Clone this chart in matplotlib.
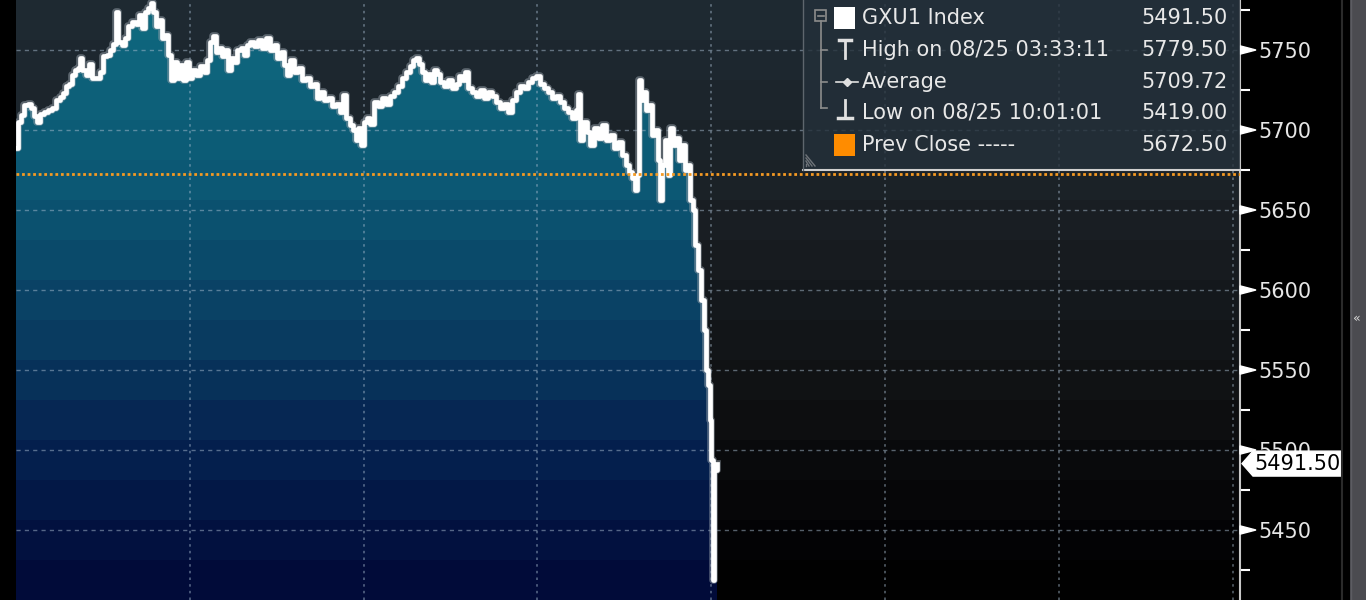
import matplotlib
matplotlib.use('Agg')
import numpy as np
import matplotlib.pyplot as plt
from matplotlib.patches import Polygon, Rectangle
from matplotlib.colors import LinearSegmentedColormap

# GXU1 Index intraday, minutes after 02:00 on 08/25
times = [0, 1.4, 3.5, 5.5, 8.3, 10.4, 12.4, 14.5, 16.6, 19.3,
         22.1, 24.8, 27.6, 30.4, 32.4, 34.5, 36.6, 38.6, 40.7, 42.8,
         44.2, 45.5, 48.3, 50.4, 52.4, 55.2, 58.0, 60.0, 62.8, 64.9,
         66.9, 69.0, 70.4, 73.2, 75.2, 77.3, 80.1, 82.8, 84.9, 87.0,
         89.0, 91.1, 93.2, 94.5, 96.6, 98.7, 100.8, 102.8, 104.9, 107.0,
         109.0, 111.1, 113.2, 115.2, 117.3, 119.4, 121.5, 124.2, 127.0, 129.7,
         131.8, 133.9, 135.9, 138.0, 140.1, 142.2, 144.2, 146.3, 148.4, 150.4,
         152.5, 155.3, 157.3, 159.4, 161.5, 164.2, 167.0, 169.8, 172.5, 175.3,
         178.0, 180.1, 182.9, 184.9, 187.0, 189.1, 191.8, 194.6, 197.4, 200.1,
         202.9, 205.7, 207.7, 209.8, 212.6, 215.3, 218.1, 220.8, 223.6, 225.7,
         227.7, 230.5, 232.6, 234.6, 236.0, 238.1, 240.2, 242.2, 244.3, 247.1,
         249.8, 252.6, 255.3, 258.1, 260.9, 263.6, 266.4, 269.1, 271.9, 274.0,
         276.1, 278.1, 280.2, 282.3, 284.3, 286.4, 288.5, 290.5, 292.6, 295.4,
         298.1, 300.9, 303.6, 305.7, 307.8, 309.9, 311.9, 314.7, 317.4, 320.2,
         323.0, 325.7, 328.5, 331.2, 334.0, 336.8, 339.5, 342.3, 345.1, 347.8,
         350.6, 353.3, 356.1, 358.9, 361.6, 364.4, 367.1, 369.9, 372.7, 375.4,
         378.2, 380.9, 383.7, 386.5, 387.8, 389.2, 391.3, 394.0, 396.1, 398.9,
         401.6, 404.4, 407.2, 409.9, 412.7, 415.4, 418.2, 421.0, 423.0, 425.1,
         427.2, 428.6, 430.0, 431.3, 432.7, 434.8, 436.8, 438.9, 441.0, 443.1,
         444.4, 445.8, 447.9, 449.9, 451.3, 453.4, 455.5, 457.5, 459.6, 461.7,
         463.7, 465.1, 467.2, 468.6, 470.7, 472.7, 474.8, 476.2, 477.6, 479.0,
         479.7, 481.0, 481.7, 483.7]

prices = [5688.75, 5705.0, 5709.5, 5715.5, 5716.25, 5713.75, 5708.75, 5705.0, 5710.0, 5711.25,
          5712.5, 5713.75, 5718.75, 5720.5, 5723.0, 5727.5, 5728.75, 5734.5, 5737.5, 5738.75,
          5745.0, 5737.5, 5734.5, 5741.25, 5732.5, 5732.5, 5736.25, 5746.25, 5747.0, 5750.0,
          5753.75, 5773.75, 5755.0, 5753.0, 5757.5, 5765.0, 5767.5, 5766.25, 5772.0, 5763.75,
          5773.75, 5776.25, 5779.5, 5773.75, 5765.0, 5768.75, 5757.5, 5759.5, 5747.0, 5731.25,
          5742.5, 5732.5, 5740.5, 5731.25, 5742.5, 5732.5, 5737.5, 5734.5, 5740.0, 5736.25,
          5743.75, 5755.0, 5758.75, 5748.75, 5751.25, 5746.25, 5750.0, 5737.5, 5745.0, 5742.5,
          5750.0, 5751.25, 5747.0, 5753.0, 5755.0, 5752.5, 5756.25, 5751.25, 5757.5, 5750.0,
          5753.0, 5745.0, 5748.75, 5740.5, 5734.5, 5743.75, 5736.25, 5738.75, 5731.25, 5732.5,
          5727.5, 5728.75, 5720.0, 5723.75, 5718.75, 5720.0, 5715.0, 5716.25, 5711.25, 5722.0,
          5707.5, 5703.0, 5700.0, 5693.75, 5701.25, 5690.5, 5705.0, 5707.5, 5703.75, 5717.5,
          5715.0, 5720.0, 5716.25, 5721.25, 5723.75, 5727.5, 5732.5, 5736.25, 5740.0, 5743.75,
          5745.0, 5741.25, 5736.25, 5731.25, 5735.0, 5730.0, 5737.5, 5735.0, 5730.0, 5727.5,
          5731.25, 5726.25, 5728.75, 5733.75, 5731.25, 5736.25, 5726.25, 5723.75, 5721.25, 5725.0,
          5720.0, 5723.75, 5721.25, 5717.5, 5713.75, 5716.25, 5711.25, 5718.75, 5723.75, 5727.5,
          5726.25, 5730.0, 5732.5, 5733.75, 5728.75, 5726.25, 5723.75, 5720.0, 5721.25, 5717.5,
          5713.75, 5711.25, 5707.5, 5712.5, 5722.5, 5693.75, 5705.0, 5698.75, 5690.5, 5701.25,
          5695.0, 5703.0, 5693.75, 5697.0, 5688.75, 5692.5, 5684.5, 5678.0, 5673.75, 5670.0,
          5662.5, 5672.0, 5731.25, 5718.75, 5723.75, 5712.5, 5715.5, 5697.0, 5700.0, 5681.25,
          5656.25, 5678.0, 5693.75, 5672.0, 5701.25, 5690.5, 5695.0, 5681.25, 5690.5, 5675.0,
          5678.0, 5656.25, 5650.0, 5628.0, 5612.5, 5593.75, 5575.0, 5550.0, 5540.5, 5518.75,
          5493.75, 5419.0, 5487.5, 5491.5]

prevClose = 5672.50
highVal = 5779.50
avgVal = 5709.72
lowVal = 5419.00
lastVal = 5491.50

legendNames = ['GXU1 Index', 'High on 08/25 03:33:11', 'Average',
               'Low on 08/25 10:01:01', 'Prev Close -----']
legendVals = [lastVal, highVal, avgVal, lowVal, prevClose]

yTicks = [5450, 5500, 5550, 5600, 5650, 5700, 5750]
yMinor = [5425, 5475, 5525, 5575, 5625, 5675, 5725, 5775]
xGrid = [120, 240, 360, 480, 600, 720, 840]   # 04:00 .. 16:00

W, H = 1366, 600
ylo, yhi = 5406.25, 5781.25
xlo, xhi = 0, 845

fig = plt.figure(figsize=(W / 100, H / 100), dpi=100, facecolor='black')
ax = fig.add_axes([16 / W, 0, 1224 / W, 1])
ax.set_xlim(xlo, xhi)
ax.set_ylim(ylo, yhi)
ax.set_facecolor('black')

# banded background and area fill
nb = 15
bgCmap = LinearSegmentedColormap.from_list('bg', [(0, '#1f2a33'), (0.3, '#1b2227'),
                                                  (0.6, '#121417'), (0.85, '#060608'),
                                                  (1, '#000000')])
fillCmap = LinearSegmentedColormap.from_list('fl', [(0, '#0f6b80'), (0.3, '#0c5874'),
                                                    (0.55, '#0a3e62'), (0.75, '#05214f'),
                                                    (1, '#010836')])
bandPos = (np.arange(nb) + 0.5) / nb
bgArr = bgCmap(bandPos)[:, None, :3]
flArr = fillCmap(bandPos)[:, None, :3]
ax.imshow(bgArr, extent=(xlo, xhi, ylo, yhi), aspect='auto', interpolation='nearest',
          origin='upper', zorder=0)
fillImg = ax.imshow(flArr, extent=(xlo, xhi, ylo, yhi), aspect='auto',
                    interpolation='nearest', origin='upper', zorder=1)
area = ax.fill_between(times, prices, ylo, step='post', facecolor='none', edgecolor='none')
fillImg.set_clip_path(area.get_paths()[0], ax.transData)

# grid
for v in yTicks:
    ax.axhline(v, color='#a8bccf', alpha=0.5, lw=1, ls=(0, (3, 3)), zorder=2)
for xg in xGrid:
    ax.axvline(xg, color='#a8bccf', alpha=0.5, lw=1.2, ls=(0, (1.5, 2.5)), zorder=2)

# price line
ax.plot(times, prices, drawstyle='steps-post', color='#9aa4ad', lw=5.5, alpha=0.5, zorder=3)
ax.plot(times, prices, drawstyle='steps-post', color='white', lw=3.4, zorder=4)

ax.axhline(prevClose, color='#f59a23', lw=2, ls=(0, (1, 1)), zorder=5)

# axes / ticks
for s in ['top', 'left', 'bottom']:
    ax.spines[s].set_visible(False)
ax.spines['right'].set_color('#c8c8c8')
ax.spines['right'].set_linewidth(1.5)
ax.set_xticks([])
ax.yaxis.tick_right()
ax.set_yticks(yTicks)
ax.set_yticklabels([str(v) for v in yTicks])
ax.set_yticks(yMinor, minor=True)
ax.tick_params(axis='y', which='major', length=0, pad=13, labelsize=15, labelcolor='#e6e6e6')
ax.tick_params(axis='y', which='minor', length=7, width=1.5, color='white', direction='out')

yt = ax.get_yaxis_transform()
for v in yTicks:
    ax.add_patch(Polygon([(1.0, v + 2.6), (1.0, v - 2.6), (1 + 16 / 1224, v)], closed=True,
                         transform=yt, clip_on=False, color='white', zorder=6))

def axX(px):
    return (px - 16) / 1224

tag = Polygon([(axX(1242), lastVal), (axX(1253), lastVal + 7.8), (axX(1341), lastVal + 7.8),
               (axX(1341), lastVal - 7.8), (axX(1253), lastVal - 7.8)], closed=True,
              transform=yt, clip_on=False, color='white', zorder=10)
ax.add_patch(tag)
ax.text(axX(1297), lastVal, f'{lastVal:.2f}', transform=yt, ha='center', va='center',
        fontsize=15, color='black', zorder=11, clip_on=False)

# overlay in pixel coordinates for legend and frame
ov = fig.add_axes([0, 0, 1, 1], zorder=5)
ov.set_xlim(0, W)
ov.set_ylim(H, 0)
ov.axis('off')
ov.patch.set_alpha(0)

ov.add_patch(Rectangle((803, 0), 437, 170, facecolor='#24303a', alpha=0.8, edgecolor='none'))
ov.plot([803, 1240], [170, 170], color='#d0d0d0', lw=1.5)
ov.plot([803, 803], [0, 170], color='#5e666d', lw=1)

rowY = [18, 50, 82, 113, 145]
for name, val, ry in zip(legendNames, legendVals, rowY):
    ov.text(862, ry, name, fontsize=15, color='#e8e8e8', va='center', ha='left')
    ov.text(1228, ry, f'{val:.2f}', fontsize=15, color='#e8e8e8', va='center', ha='right')

treeCol = '#8c8c8c'
ov.add_patch(Rectangle((815, 10), 11, 11, facecolor='none', edgecolor=treeCol, lw=1.2))
ov.plot([817.5, 823.5], [15.5, 15.5], color=treeCol, lw=1.2)
ov.plot([820.5, 820.5], [21, 108], color=treeCol, lw=1.2)
for ry in [50, 82, 108]:
    ov.plot([820.5, 827], [ry, ry], color=treeCol, lw=1.2)
ov.add_patch(Rectangle((834, 7), 21, 22, facecolor='white', edgecolor='none'))
ov.add_patch(Rectangle((834, 134), 21, 22, facecolor='#ff8c00', edgecolor='none'))
iconCol = '#e0e0e0'
ov.plot([845, 845], [41, 58], color=iconCol, lw=2)
ov.plot([839, 851], [40, 40], color=iconCol, lw=2.5)
ov.plot([836, 858], [82, 82], color=iconCol, lw=1.2)
ov.plot([847], [82], marker='D', ms=4, color=iconCol)
ov.plot([845, 845], [100, 117], color=iconCol, lw=2)
ov.plot([838, 852], [118, 118], color=iconCol, lw=2.5)
for k in range(4):
    ov.plot([806 + 3 * k, 806], [166, 166 - 3 * k - 2], color='#6f7479', lw=1)

# right frame / scroll bar
ov.plot([1342, 1342], [0, H], color='#2a2a2a', lw=1.5)
ov.add_patch(Rectangle((1350, 0), 16, H, facecolor='#4b4b50', edgecolor='none'))
ov.plot([1351, 1351], [0, H], color='#5c5c62', lw=1)
ov.text(1357, 318, '\u00ab', fontsize=9, color='#d8d8d8', ha='center', va='center')

fig.savefig('out.png', dpi=100, facecolor='black')
